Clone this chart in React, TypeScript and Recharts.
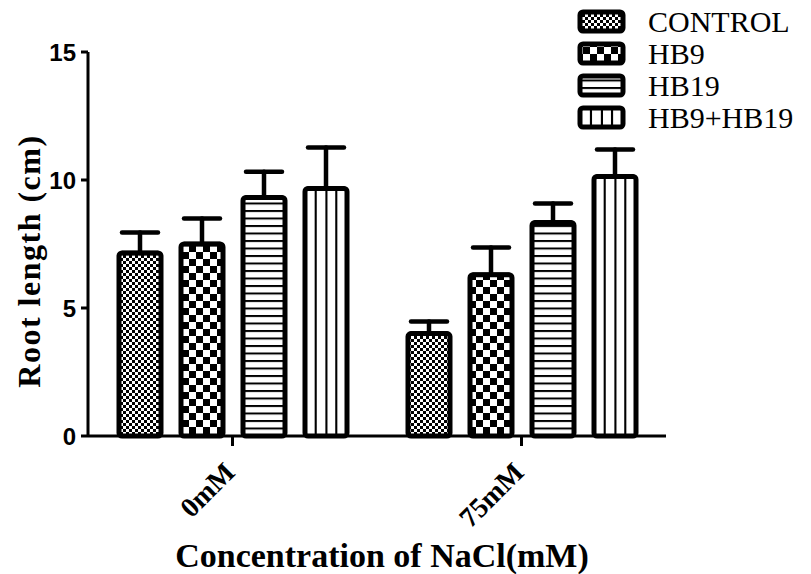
import React from 'react';
import { BarChart, Bar, XAxis, YAxis, ErrorBar, Legend, Label } from 'recharts';

const categories = ['0mM', '75mM'];
const controlVals = [7.15, 4.0];
const controlErrs = [0.8, 0.47];
const hb9Vals = [7.5, 6.3];
const hb9Errs = [1.0, 1.06];
const hb19Vals = [9.32, 8.34];
const hb19Errs = [1.0, 0.74];
const comboVals = [9.67, 10.14];
const comboErrs = [1.6, 1.05];
const yTicks = [0, 5, 10, 15];

const seriesNames = ['CONTROL', 'HB9', 'HB19', 'HB9+HB19'];
const seriesKeys = ['control', 'hb9', 'hb19', 'combo'];
const patternIds = ['pCtrl', 'pHb9', 'pHb19', 'pCombo'];

const data = categories.map((name, i) => ({
  name,
  control: controlVals[i],
  controlErr: [0, controlErrs[i]],
  hb9: hb9Vals[i],
  hb9Err: [0, hb9Errs[i]],
  hb19: hb19Vals[i],
  hb19Err: [0, hb19Errs[i]],
  combo: comboVals[i],
  comboErr: [0, comboErrs[i]],
}));

const SERIF = '"Liberation Serif", "Times New Roman", serif';
const SANS = '"Liberation Sans", Arial, sans-serif';

const XTick = (props: any) => {
  const { x, y, payload } = props;
  const tx = x + 4;
  const ty = y + 26;
  return (
    <text
      x={tx}
      y={ty}
      textAnchor="end"
      transform={`rotate(-45 ${tx} ${ty})`}
      fontFamily={SERIF}
      fontWeight="bold"
      fontSize={28}
      fill="#000"
    >
      {payload.value}
    </text>
  );
};

const YTick = (props: any) => {
  const { x, y, payload } = props;
  return (
    <text x={x} y={y} dy={8.5} textAnchor="end" fontFamily={SANS} fontWeight="bold" fontSize={24} fill="#000">
      {payload.value}
    </text>
  );
};

const renderLegend = () => (
  <div style={{ fontFamily: SERIF, fontSize: 30, color: '#000' }}>
    {seriesNames.map((n, i) => (
      <div key={n} style={{ display: 'flex', alignItems: 'center', height: 32 }}>
        <svg width={52} height={28} style={{ display: 'block' }}>
          <rect x={4} y={4} width={43} height={19} rx={3} ry={3} fill={`url(#${patternIds[i]})`} stroke="#000" strokeWidth={5} />
        </svg>
        <span style={{ marginLeft: 20, lineHeight: '32px' }}>{n}</span>
      </div>
    ))}
  </div>
);

export default function App() {
  return (
    <div style={{ position: 'absolute', left: 0, top: 0 }}>
      <BarChart
        width={811}
        height={574}
        data={data}
        margin={{ top: 52, right: 145, bottom: 0, left: 0 }}
        barSize={42}
        barGap={20}
      >
        <defs>
          <pattern id="pCtrl" patternUnits="userSpaceOnUse" width={6} height={6}>
            <rect x={0} y={0} width={6} height={6} fill="#fff" />
            <rect x={0} y={0} width={3} height={3} fill="#000" />
            <rect x={3} y={3} width={3} height={3} fill="#000" />
          </pattern>
          <pattern id="pHb9" patternUnits="userSpaceOnUse" width={14} height={14}>
            <rect x={0} y={0} width={14} height={14} fill="#fff" />
            <rect x={0} y={0} width={7} height={7} fill="#000" />
            <rect x={7} y={7} width={7} height={7} fill="#000" />
          </pattern>
          <pattern id="pHb19" patternUnits="userSpaceOnUse" width={10} height={7.5}>
            <rect x={0} y={0} width={10} height={7.5} fill="#fff" />
            <rect x={0} y={0} width={10} height={2} fill="#000" />
          </pattern>
          <pattern id="pCombo" patternUnits="objectBoundingBox" patternContentUnits="objectBoundingBox" width={1} height={1}>
            <rect x={0} y={0} width={1} height={1} fill="#fff" />
            <rect x={0.23} y={0} width={0.05} height={1} fill="#000" />
            <rect x={0.485} y={0} width={0.05} height={1} fill="#000" />
            <rect x={0.72} y={0} width={0.05} height={1} fill="#000" />
          </pattern>
        </defs>
        <XAxis
          dataKey="name"
          height={138}
          tick={<XTick />}
          tickSize={10}
          tickMargin={2}
          axisLine={{ stroke: '#000', strokeWidth: 3 }}
          tickLine={{ stroke: '#000', strokeWidth: 3 }}
          interval={0}
        >
          <Label
            content={(p: any) => {
              const vb = p.viewBox || {};
              const cx = vb.x + vb.width / 2 + 5;
              return (
                <text x={cx} y={567} textAnchor="middle" fontFamily={SERIF} fontWeight="bold" fontSize={34} fill="#000">
                  Concentration of NaCl(mM)
                </text>
              );
            }}
          />
        </XAxis>
        <YAxis
          width={88}
          domain={[0, 15]}
          ticks={yTicks}
          tickSize={7}
          tickMargin={5}
          axisLine={{ stroke: '#000', strokeWidth: 3 }}
          tickLine={{ stroke: '#000', strokeWidth: 3 }}
          tick={<YTick />}
        >
          <Label
            content={(p: any) => {
              const vb = p.viewBox || {};
              const cy = vb.y + vb.height / 2 + 17;
              const cx = 40;
              return (
                <text
                  x={cx}
                  y={cy}
                  textAnchor="middle"
                  transform={`rotate(-90 ${cx} ${cy})`}
                  fontFamily={SERIF}
                  fontWeight="bold"
                  fontSize={32}
                  letterSpacing={1.5}
                  fill="#000"
                >
                  Root length (cm)
                </text>
              );
            }}
          />
        </YAxis>
        <Legend
          layout="horizontal"
          verticalAlign="middle"
          align="center"
          content={renderLegend}
          wrapperStyle={{ left: 576, top: 6, width: 235 }}
        />
        {seriesKeys.map((k, i) => (
          <Bar
            key={k}
            dataKey={k}
            name={seriesNames[i]}
            fill={`url(#${patternIds[i]})`}
            stroke="#000"
            strokeWidth={5}
            radius={3}
            isAnimationActive={false}
          >
            <ErrorBar
              dataKey={`${k}Err`}
              width={18}
              stroke="#000"
              strokeWidth={4.5}
              strokeLinecap="round"
              isAnimationActive={false}
            />
          </Bar>
        ))}
      </BarChart>
    </div>
  );
}
